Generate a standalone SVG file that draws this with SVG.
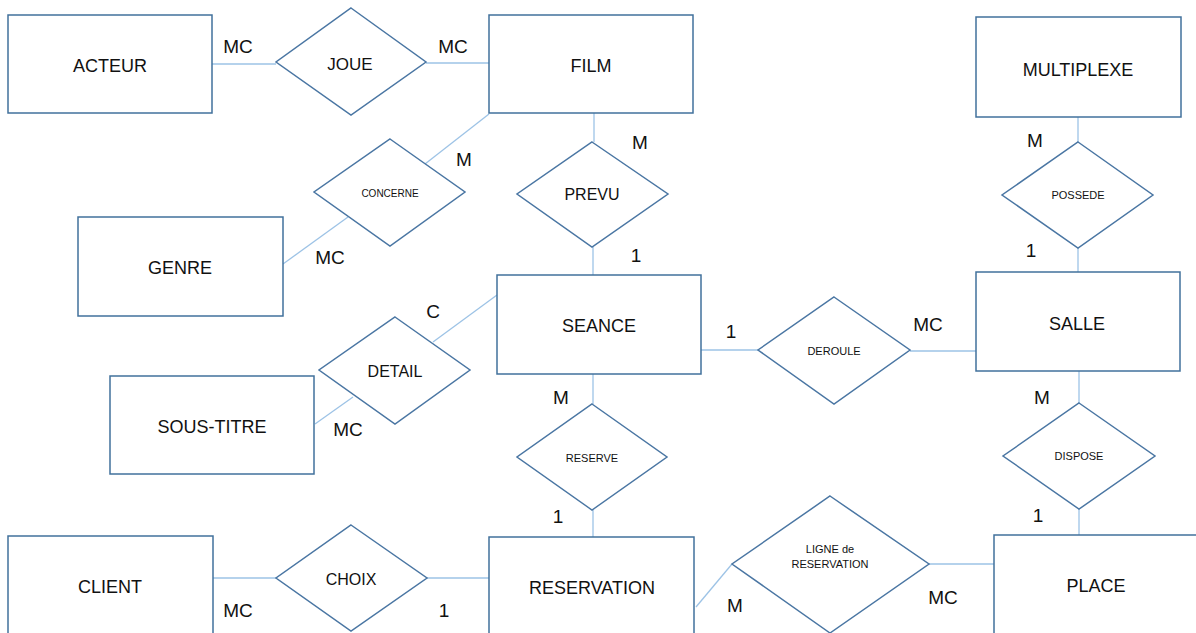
<svg xmlns="http://www.w3.org/2000/svg" width="1196" height="633" viewBox="0 0 1196 633">
<style>
.ent{fill:#fff;stroke:#41719c;stroke-width:1.5}
.rel{fill:#fff;stroke:#4a76a3;stroke-width:1.5}
.con line,.con polyline{stroke:#9dc3e6;stroke-width:1.3;fill:none}
text{font-family:"Liberation Sans",Arial,sans-serif;fill:#111;text-anchor:middle}
.t1{font-size:18px}
.t2{font-size:16px}
.t3{font-size:11px}
.lb{font-size:19px}
</style>
<rect width="1196" height="633" fill="#fff"/>
<g class="con" id="connectors">
<line x1="212" y1="64" x2="276" y2="64"/>
<line x1="426" y1="63" x2="489" y2="63"/>
<line x1="489" y1="114" x2="425" y2="164"/>
<line x1="348" y1="217" x2="283" y2="264"/>
<line x1="594" y1="113" x2="594" y2="142"/>
<line x1="593" y1="247" x2="593" y2="275"/>
<line x1="497" y1="295" x2="433" y2="342"/>
<line x1="353" y1="397" x2="315" y2="424"/>
<line x1="701" y1="350" x2="758" y2="350"/>
<line x1="910" y1="351" x2="976" y2="351"/>
<line x1="1078" y1="117" x2="1078" y2="142"/>
<line x1="1078" y1="248" x2="1078" y2="272"/>
<line x1="1079" y1="371" x2="1079" y2="403"/>
<line x1="1079" y1="509" x2="1079" y2="535"/>
<line x1="593" y1="374" x2="593" y2="404"/>
<line x1="593" y1="510" x2="593" y2="537"/>
<line x1="213" y1="578" x2="276" y2="578"/>
<line x1="427" y1="578" x2="489" y2="578"/>
<line x1="696" y1="607" x2="732" y2="564"/>
<line x1="929" y1="564" x2="994" y2="564"/>
</g>
<g id="acteur"><rect class="ent" x="8" y="15" width="204" height="98"/><text class="t1" x="110" y="72">ACTEUR</text></g>
<g id="film"><rect class="ent" x="489" y="15" width="204" height="98"/><text class="t1" x="591" y="72">FILM</text></g>
<g id="multiplexe"><rect class="ent" x="976" y="17" width="205" height="100"/><text class="t1" x="1078" y="76">MULTIPLEXE</text></g>
<g id="genre"><rect class="ent" x="78" y="217" width="205" height="99"/><text class="t1" x="180" y="274">GENRE</text></g>
<g id="seance"><rect class="ent" x="497" y="275" width="204" height="99"/><text class="t1" x="599" y="332">SEANCE</text></g>
<g id="salle"><rect class="ent" x="976" y="272" width="204" height="99"/><text class="t1" x="1077" y="330">SALLE</text></g>
<g id="sous-titre"><rect class="ent" x="110" y="376" width="204" height="98"/><text class="t1" x="212" y="433">SOUS-TITRE</text></g>
<g id="client"><rect class="ent" x="8" y="536" width="205" height="105"/><text class="t1" x="110" y="593">CLIENT</text></g>
<g id="reservation"><rect class="ent" x="489" y="537" width="205" height="104"/><text class="t1" x="592" y="594">RESERVATION</text></g>
<g id="place"><rect class="ent" x="994" y="535" width="206" height="106"/><text class="t1" x="1096" y="592">PLACE</text></g>

<g id="joue"><polygon class="rel" points="351,8 426,62 351,115 276,62"/><text class="t2" x="350" y="70" style="font-size:17px">JOUE</text></g>
<g id="concerne"><polygon class="rel" points="390,139 465,192 390,246 314,192"/><text class="t3" x="390" y="197" style="font-size:10px">CONCERNE</text></g>
<g id="prevu"><polygon class="rel" points="592,142 668,194 592,247 517,194"/><text class="t2" x="592" y="200">PREVU</text></g>
<g id="detail"><polygon class="rel" points="395,317 470,370 395,424 319,370"/><text class="t2" x="395" y="377">DETAIL</text></g>
<g id="deroule"><polygon class="rel" points="834,297 910,350 834,404 758,350"/><text class="t3" x="834" y="355">DEROULE</text></g>
<g id="possede"><polygon class="rel" points="1078,142 1153,195 1078,248 1002,195"/><text class="t3" x="1078" y="199">POSSEDE</text></g>
<g id="dispose"><polygon class="rel" points="1079,403 1155,456 1079,509 1003,456"/><text class="t3" x="1079" y="460">DISPOSE</text></g>
<g id="reserve"><polygon class="rel" points="592,404 667,457 592,510 517,457"/><text class="t3" x="592" y="462">RESERVE</text></g>
<g id="choix"><polygon class="rel" points="351,525 427,578 351,631 276,578"/><text class="t2" x="351" y="585">CHOIX</text></g>
<g id="ligne"><polygon class="rel" points="830,496 929,564 830,633 732,564"/><text class="t3" x="830" y="553">LIGNE de</text><text class="t3" x="830" y="568">RESERVATION</text></g>

<g id="labels">
<text class="lb" x="238" y="53">MC</text>
<text class="lb" x="453" y="53">MC</text>
<text class="lb" x="464" y="166">M</text>
<text class="lb" x="330" y="264">MC</text>
<text class="lb" x="640" y="149">M</text>
<text class="lb" x="636" y="262">1</text>
<text class="lb" x="433" y="318">C</text>
<text class="lb" x="348" y="436">MC</text>
<text class="lb" x="731" y="338">1</text>
<text class="lb" x="928" y="331">MC</text>
<text class="lb" x="1035" y="147">M</text>
<text class="lb" x="1031" y="257">1</text>
<text class="lb" x="1042" y="404">M</text>
<text class="lb" x="1038" y="522">1</text>
<text class="lb" x="561" y="404">M</text>
<text class="lb" x="558" y="523">1</text>
<text class="lb" x="238" y="617">MC</text>
<text class="lb" x="444" y="617">1</text>
<text class="lb" x="735" y="612">M</text>
<text class="lb" x="943" y="604">MC</text>
</g>
</svg>
